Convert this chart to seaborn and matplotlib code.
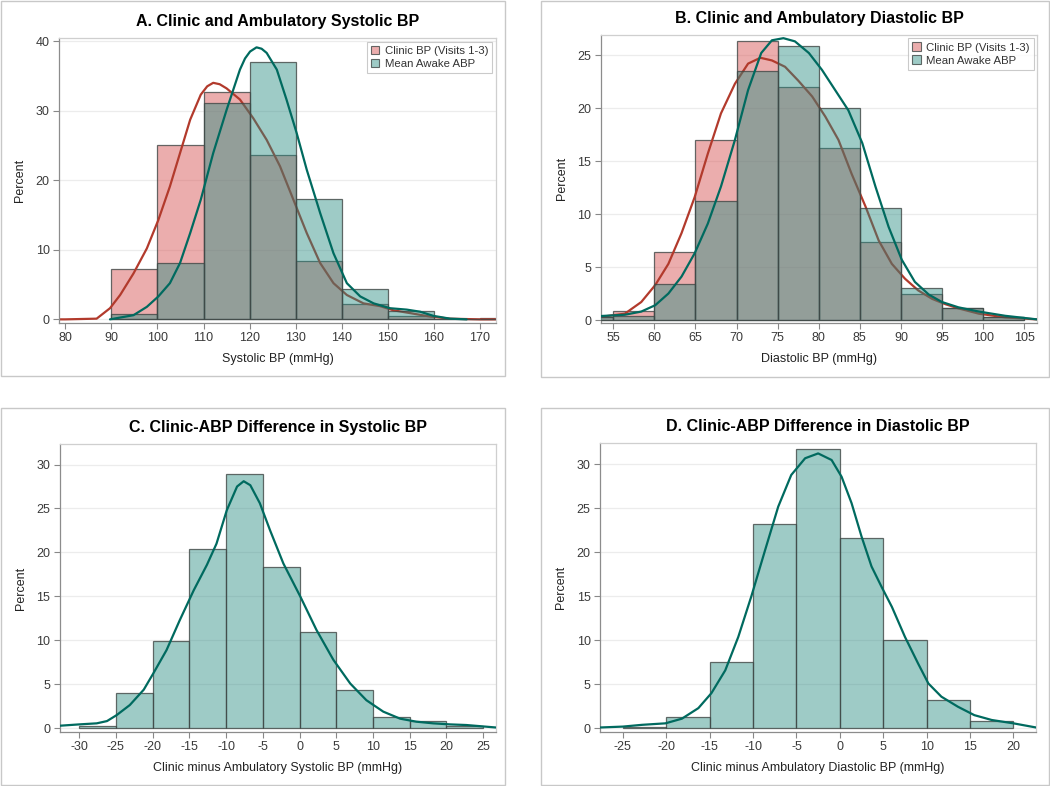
import numpy as np
import pandas as pd
import matplotlib
matplotlib.use("Agg")
import matplotlib.pyplot as plt
from matplotlib.patches import Rectangle, Patch
import seaborn as sns

# ---------------- data ----------------
# Panel A: systolic BP histograms (percent per 10 mmHg bin, bins start at left edge)
sys_bin_left = [90, 100, 110, 120, 130, 140, 150, 160, 170]
clinic_sys_pct = [7.2, 25.0, 32.7, 23.6, 8.4, 2.2, 0.5, 0.0, 0.2]
abp_sys_pct = [0.8, 8.1, 31.1, 37.0, 17.3, 4.4, 1.2, 0.0, 0.0]
# density curves (percent scale)
clinic_sys_kde_x = [78.7, 80, 86.8, 89.7, 91.9, 94.8, 97.7, 100.2, 102.7, 104.9, 107.1, 109.4, 110.8,
                    112.1, 113.5, 115.0, 117.9, 120.8, 123.7, 126.6, 129.5, 132.4, 135.3, 138.2,
                    141.1, 144.7, 148.3, 151.2, 154.8, 159.2, 163.5, 170, 173.4]
clinic_sys_kde_y = [0.0, 0.0, 0.1, 1.6, 3.5, 6.6, 10.2, 14.3, 19.1, 23.9, 28.7, 32.3, 33.5,
                    34.0, 33.8, 33.2, 31.6, 28.9, 25.8, 22.0, 17.2, 12.4, 8.1, 5.2,
                    3.5, 2.3, 1.9, 1.3, 0.9, 0.4, 0.1, 0.0, 0.0]
abp_sys_kde_x = [89.7, 94.8, 97.7, 100.2, 102.7, 104.9, 107.1, 109.4, 112.1, 115.0, 117.9, 119.0,
                 120.1, 121.5, 122.6, 123.7, 125.9, 128.0, 130.2, 132.4, 135.3, 138.2, 141.1,
                 144.0, 146.9, 150.5, 154.1, 157.0, 159.9, 163.5, 167.1]
abp_sys_kde_y = [0.0, 0.6, 1.8, 3.3, 5.2, 8.1, 12.4, 17.2, 23.9, 30.1, 35.9, 37.5,
                 38.5, 39.1, 38.9, 38.3, 35.9, 31.6, 26.8, 21.5, 15.3, 9.5, 5.2,
                 3.3, 2.3, 1.6, 1.4, 1.1, 0.5, 0.1, 0.0]

# Panel B: diastolic BP histograms (5 mmHg bins)
dia_bin_left = [50, 55, 60, 65, 70, 75, 80, 85, 90, 95, 100]
clinic_dia_pct = [0.3, 0.9, 6.4, 17.0, 26.3, 22.0, 16.2, 7.4, 2.5, 1.1, 0.3]
abp_dia_pct = [0.3, 0.4, 3.4, 11.2, 23.5, 25.9, 20.0, 10.6, 3.0, 1.1, 0.3]
clinic_dia_kde_x = [53.5, 56.4, 58.4, 60.1, 61.7, 63.3, 64.9, 66.5, 68.1, 69.8, 71.4, 72.9, 74.3,
                    75.9, 77.5, 79.2, 80.8, 82.4, 84.0, 85.7, 87.3, 88.9, 90.5, 92.1, 93.8,
                    95.4, 97.0, 99.5, 102.7, 106.6]
clinic_dia_kde_y = [0.3, 0.6, 1.7, 3.3, 5.3, 8.2, 11.6, 15.7, 19.5, 22.3, 24.2, 24.75, 24.5,
                    23.9, 22.6, 21.1, 19.2, 17.0, 13.8, 10.7, 7.5, 5.3, 3.9, 2.8, 2.0,
                    1.5, 1.1, 0.6, 0.25, 0.06]
abp_dia_kde_x = [53.5, 56.4, 58.4, 60.1, 61.7, 63.3, 64.9, 66.5, 68.1, 69.8, 71.4, 73.0, 74.3,
                 75.7, 77.1, 78.8, 80.4, 82.0, 83.6, 85.3, 86.9, 88.5, 90.1, 91.7, 93.4,
                 95.0, 97.0, 99.5, 102.7, 106.6]
abp_dia_kde_y = [0.38, 0.5, 0.8, 1.4, 2.5, 4.1, 6.3, 9.1, 12.6, 17.0, 21.7, 25.2, 26.4,
                 26.6, 26.3, 25.2, 23.6, 21.7, 19.8, 16.7, 12.6, 8.8, 5.7, 3.6, 2.4,
                 1.7, 1.2, 0.8, 0.4, 0.06]

# Panel C: clinic minus ABP systolic difference
dsys_bin_left = [-30, -25, -20, -15, -10, -5, 0, 5, 10, 15, 20]
dsys_pct = [0.3, 4.0, 9.9, 20.4, 28.9, 18.4, 11.0, 4.4, 1.3, 0.8, 0.3]
dsys_kde_x = [-32.6, -30, -27.6, -26.2, -24.9, -23.1, -21.2, -19.9, -18.1, -16.3, -14.4, -12.6,
              -11.3, -9.9, -8.5, -7.6, -6.7, -5.4, -4.0, -2.2, 0.1, 2.3, 4.6, 6.9, 9.1,
              11.4, 13.7, 15.9, 18.2, 20.5, 22.7, 26.7]
dsys_kde_y = [0.3, 0.45, 0.57, 0.83, 1.5, 2.65, 4.4, 6.25, 8.9, 12.3, 15.7, 18.6,
              21.0, 24.8, 27.5, 28.1, 27.65, 25.6, 22.5, 18.75, 15.0, 11.2, 7.8, 5.1, 3.2,
              1.9, 1.1, 0.76, 0.57, 0.45, 0.38, 0.1]

# Panel D: clinic minus ABP diastolic difference
ddia_bin_left = [-25, -20, -15, -10, -5, 0, 5, 10, 15]
ddia_pct = [0.2, 1.3, 7.5, 23.2, 31.7, 21.6, 10.0, 3.2, 0.8]
ddia_kde_x = [-27.6, -25, -22.8, -20.1, -18.2, -16.3, -14.8, -13.2, -11.7, -10.2, -8.6, -7.1,
              -5.6, -4.0, -2.5, -0.95, 0.2, 1.35, 2.5, 3.65, 4.8, 6.0, 7.5, 9.0, 10.2,
              11.7, 13.6, 15.5, 17.5, 20.0, 22.6]
ddia_kde_y = [0.1, 0.2, 0.4, 0.57, 1.1, 2.3, 4.0, 6.6, 10.4, 15.0, 20.3, 25.2,
              28.8, 30.7, 31.25, 30.5, 28.6, 25.6, 21.8, 18.4, 16.1, 13.8, 10.4, 7.4, 5.1,
              3.6, 2.46, 1.5, 0.95, 0.57, 0.1]

titles = ["A. Clinic and Ambulatory Systolic BP", "B. Clinic and Ambulatory Diastolic BP",
          "C. Clinic-ABP Difference in Systolic BP", "D. Clinic-ABP Difference in Diastolic BP"]
xlabels = ["Systolic BP (mmHg)", "Diastolic BP (mmHg)",
           "Clinic minus Ambulatory Systolic BP (mmHg)", "Clinic minus Ambulatory Diastolic BP (mmHg)"]
legend_labels = ["Clinic BP (Visits 1-3)", "Mean Awake ABP"]

# ---------------- style ----------------
sns.set_theme(style="white")
plt.rcParams["font.family"] = ["Liberation Sans", "DejaVu Sans"]

RED_FILL = (0.85, 0.36, 0.36, 0.5)
TEAL_FILL = (0.16, 0.55, 0.51, 0.45)
RED_LINE = "#B23A2C"
TEAL_LINE = "#006A5F"
EDGE = (0.25, 0.28, 0.27, 0.8)
TICK_C = "#3a3a3a"

W, H = 1050, 786
fig = plt.figure(figsize=(W / 100, H / 100), dpi=100)


def px_axes(left, top, right, bottom):
    return fig.add_axes([left / W, 1 - bottom / H, (right - left) / W, (bottom - top) / H])


# panel borders
for (l, t, r, b) in [(1, 1, 505, 376), (541, 1, 1049, 377), (1, 408, 505, 785), (541, 408, 1049, 785)]:
    fig.add_artist(Rectangle((l / W, 1 - b / H), (r - l) / W, (b - t) / H, transform=fig.transFigure,
                             fill=False, edgecolor="#c8c8c8", linewidth=1.0))

axA = px_axes(59.3, 38.3, 495.7, 322.7)
axB = px_axes(601, 35, 1037.3, 322.7)
axC = px_axes(60, 444.3, 495.7, 731.7)
axD = px_axes(600.3, 443.3, 1036, 731.7)


def hist(ax, left, pct, width, face, z):
    left = [float(v) for v in left]
    df = pd.DataFrame({"x": [v + width / 2 for v in left], "w": list(pct)})
    edges = left + [left[-1] + width]
    sns.histplot(data=df, x="x", weights="w", bins=edges, stat="count", ax=ax,
                 facecolor=face, edgecolor=EDGE, linewidth=0.9, zorder=z)


def curve(ax, xs, ys, color, z):
    sns.lineplot(x=xs, y=ys, color=color, linewidth=1.6, ax=ax, sort=False, zorder=z)


# Panel A (red bars, red curve, then teal bars on top, teal curve on top)
hist(axA, sys_bin_left, clinic_sys_pct, 10, RED_FILL, 2)
curve(axA, clinic_sys_kde_x, clinic_sys_kde_y, RED_LINE, 2.5)
hist(axA, sys_bin_left, abp_sys_pct, 10, TEAL_FILL, 3)
curve(axA, abp_sys_kde_x, abp_sys_kde_y, TEAL_LINE, 4)

# Panel B
hist(axB, dia_bin_left, clinic_dia_pct, 5, RED_FILL, 2)
curve(axB, clinic_dia_kde_x, clinic_dia_kde_y, RED_LINE, 2.5)
hist(axB, dia_bin_left, abp_dia_pct, 5, TEAL_FILL, 3)
curve(axB, abp_dia_kde_x, abp_dia_kde_y, TEAL_LINE, 4)

# Panel C, D
hist(axC, dsys_bin_left, dsys_pct, 5, TEAL_FILL, 3)
curve(axC, dsys_kde_x, dsys_kde_y, TEAL_LINE, 4)
hist(axD, ddia_bin_left, ddia_pct, 5, TEAL_FILL, 3)
curve(axD, ddia_kde_x, ddia_kde_y, TEAL_LINE, 4)

settings = [
    (axA, (78.7, 173.4), (-0.48, 40.4), np.arange(80, 171, 10), np.arange(0, 41, 10)),
    (axB, (53.5, 106.6), (-0.25, 26.9), np.arange(55, 106, 5), np.arange(0, 26, 5)),
    (axC, (-32.6, 26.7), (-0.38, 32.3), np.arange(-30, 26, 5), np.arange(0, 31, 5)),
    (axD, (-27.6, 22.6), (-0.38, 32.4), np.arange(-25, 21, 5), np.arange(0, 31, 5)),
]
for i, (ax, xl, yl, xt, yt) in enumerate(settings):
    ax.set_xlim(*xl)
    ax.set_ylim(*yl)
    ax.set_xticks(xt)
    ax.set_yticks(yt)
    ax.set_xticklabels([str(v) for v in xt])
    ax.set_yticklabels([str(v) for v in yt])
    ax.tick_params(axis="both", which="major", direction="out", length=4, width=0.8,
                   color="#888888", labelsize=9, labelcolor=TICK_C, pad=3,
                   bottom=True, left=True)
    ax.grid(axis="y", color="#ececec", linewidth=0.9, zorder=0)
    ax.set_axisbelow(True)
    for s in ["left", "bottom"]:
        ax.spines[s].set_color("#8c8c8c")
        ax.spines[s].set_linewidth(0.9)
    for s in ["top", "right"]:
        ax.spines[s].set_color("#cfcfcf")
        ax.spines[s].set_linewidth(0.9)
    ax.set_xlabel(xlabels[i], fontsize=9, color="#222222", labelpad=6)
    ax.set_ylabel("Percent", fontsize=9, color="#222222", labelpad=7)
    ax.set_title(titles[i], fontsize=11.5, fontweight="bold", color="black", pad=9)

for ax in (axA, axB):
    handles = [Patch(facecolor=RED_FILL, edgecolor=EDGE, linewidth=0.8),
               Patch(facecolor=TEAL_FILL, edgecolor=EDGE, linewidth=0.8)]
    leg = ax.legend(handles, legend_labels, loc="upper right", fontsize=8.2, frameon=True,
                    fancybox=False, edgecolor="#bdbdbd", handlelength=0.75, handleheight=0.75,
                    handletextpad=0.5, borderpad=0.35, labelspacing=0.25,
                    borderaxespad=0.3, labelcolor="#333333")
    leg.get_frame().set_linewidth(0.8)
    leg.set_zorder(6)

fig.savefig("out.png", dpi=100)
